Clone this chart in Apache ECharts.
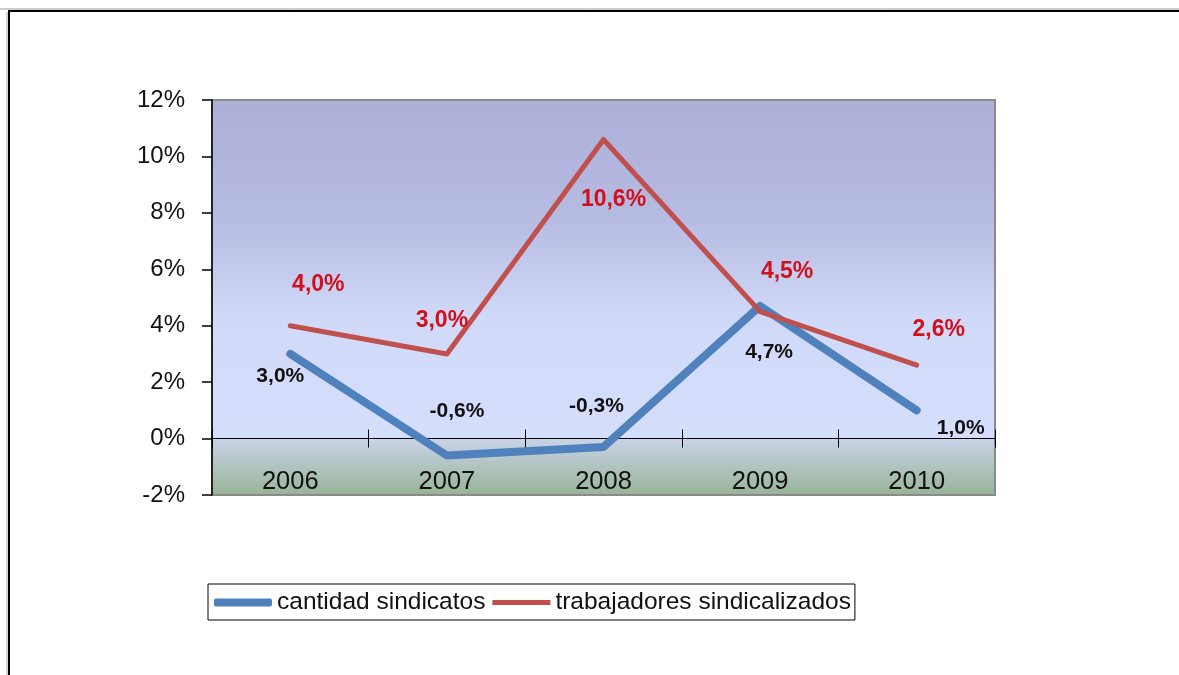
<!DOCTYPE html>
<html>
<head>
<meta charset="utf-8">
<script src="https://cdn.jsdelivr.net/npm/echarts@6/dist/echarts.min.js"></script>
<style>
html,body{margin:0;padding:0;background:#fff;}
#c{width:1179px;height:675px;}
</style>
</head>
<body>
<div id="c"></div>
<script>
const categories = ['2006', '2007', '2008', '2009', '2010'];
const cantidadSindicatos = [3.0, -0.6, -0.3, 4.7, 1.0];
const trabajadoresSindicalizados = [4.0, 3.0, 10.6, 4.5, 2.6];
const seriesNames = ['cantidad sindicatos', 'trabajadores sindicalizados'];
const yTicks = { min: -2, max: 12, interval: 2 };

// label offsets (pixels) relative to each point
const blueLabelOffsets = [[-10, 22], [10, -44], [-7, -41], [9, 46], [44, 18]];
const redLabelOffsets = [[28, -41], [-5, -33], [10, 60], [27, -40], [22, -36]];

const fmt = v => v.toFixed(1).replace('.', ',') + '%';
const FONT = '"Liberation Sans", Arial, sans-serif';

const GRID_TOP = 100, GRID_BOTTOM_PX = 495;
const zeroOffset = -((GRID_BOTTOM_PX - GRID_TOP) * (0 - yTicks.min) / (yTicks.max - yTicks.min));

function buildData(values, offsets) {
  return values.map((v, i) => ({
    value: v,
    label: { offset: offsets[i] }
  }));
}

const chart = echarts.init(document.getElementById('c'), null, { renderer: 'canvas' });
chart.setOption({
  animation: false,
  textStyle: { fontFamily: FONT },
  grid: {
    left: 212, right: 184, top: GRID_TOP, bottom: 675 - GRID_BOTTOM_PX,
    show: true,
    borderColor: '#8a8a8a',
    borderWidth: 2,
    backgroundColor: {
      type: 'linear', x: 0, y: 0, x2: 0, y2: 1,
      colorStops: [
        { offset: 0, color: '#adafd8' },
        { offset: 0.3, color: '#b6bbe2' },
        { offset: 0.55, color: '#d0d9f8' },
        { offset: 0.857, color: '#d5defb' },
        { offset: 0.858, color: '#c8d2e6' },
        { offset: 1, color: '#98b396' }
      ]
    }
  },
  legend: {
    left: 208, top: 584,
    orient: 'horizontal',
    itemWidth: 58, itemHeight: 8,
    itemGap: 7,
    padding: [6, 4, 5, 6],
    borderColor: '#000', borderWidth: 1,
    backgroundColor: '#fff',
    textStyle: { fontSize: 24.5, color: '#111', fontFamily: FONT },
    data: [
      { name: seriesNames[0], icon: 'roundRect' },
      { name: seriesNames[1], icon: 'path://M0,0 L58,0 L58,5 L0,5 Z' }
    ]
  },
  xAxis: [
    {
      type: 'category', data: categories, boundaryGap: true, position: 'bottom',
      offset: zeroOffset,
      axisLine: { onZero: false, lineStyle: { color: '#000', width: 1 } },
      axisTick: { show: true, inside: false, length: 9, lineStyle: { color: '#000' } },
      axisLabel: { margin: 30, fontSize: 25.5, color: '#111', fontFamily: FONT },
      splitLine: { show: false }
    },
    {
      type: 'category', data: categories, boundaryGap: true, position: 'bottom',
      offset: zeroOffset,
      axisLine: { onZero: false, lineStyle: { color: '#000', width: 1 } },
      axisTick: { show: true, inside: true, length: 9, lineStyle: { color: '#000' } },
      axisLabel: { show: false },
      splitLine: { show: false }
    }
  ],
  yAxis: {
    type: 'value', min: yTicks.min, max: yTicks.max, interval: yTicks.interval,
    axisLine: { show: true, lineStyle: { color: '#000', width: 1.5 } },
    axisTick: { show: true, length: 10, lineStyle: { color: '#000', width: 1.5 } },
    axisLabel: { margin: 27, fontSize: 24, color: '#111', fontFamily: FONT, formatter: '{value}%' },
    splitLine: { show: false }
  },
  series: [
    {
      name: seriesNames[0], type: 'line',
      data: buildData(cantidadSindicatos, blueLabelOffsets),
      color: '#4f81bd',
      symbol: 'circle', symbolSize: 1, showSymbol: true,
      lineStyle: { width: 8, color: '#4f81bd', cap: 'round', join: 'round' },
      itemStyle: { color: '#4f81bd' },
      label: {
        show: true, position: 'inside', formatter: p => fmt(p.value),
        fontSize: 21, fontWeight: 'bold', color: '#111', fontFamily: FONT
      },
      z: 2
    },
    {
      name: seriesNames[1], type: 'line',
      data: buildData(trabajadoresSindicalizados, redLabelOffsets),
      color: '#c0504d',
      symbol: 'circle', symbolSize: 1, showSymbol: true,
      lineStyle: { width: 5, color: '#c0504d', cap: 'round', join: 'round' },
      itemStyle: { color: '#c0504d' },
      label: {
        show: true, position: 'inside', formatter: p => fmt(p.value),
        fontSize: 23, fontWeight: 'bold', color: '#d0101a', fontFamily: FONT
      },
      z: 3
    }
  ],
  graphic: [
    { type: 'line', shape: { x1: 0, y1: 9, x2: 1179, y2: 9 }, style: { stroke: '#999', lineWidth: 1 }, silent: true },
    { type: 'line', shape: { x1: 8, y1: 11, x2: 1179, y2: 11 }, style: { stroke: '#000', lineWidth: 2 }, silent: true },
    { type: 'line', shape: { x1: 9, y1: 10, x2: 9, y2: 675 }, style: { stroke: '#000', lineWidth: 2 }, silent: true },
    { type: 'line', shape: { x1: 7, y1: 12, x2: 7, y2: 675 }, style: { stroke: '#aaa', lineWidth: 1 }, silent: true }
  ]
});
</script>
</body>
</html>
